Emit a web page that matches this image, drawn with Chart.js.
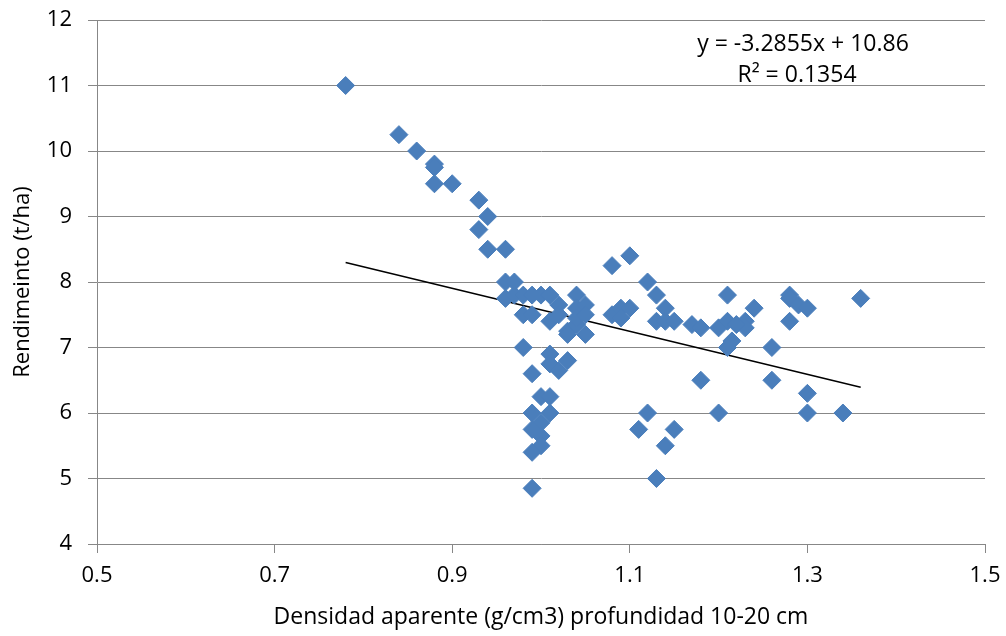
<!DOCTYPE html>
<html>
<head>
<meta charset="utf-8">
<script src="https://cdn.jsdelivr.net/npm/chart.js@4.4.0/dist/chart.umd.min.js"></script>
<style>
  html, body { margin: 0; padding: 0; background: #fff; }
  #wrap { width: 1006px; height: 636px; }
</style>
</head>
<body>
<div id="wrap"><canvas id="chart" width="1006" height="636"></canvas></div>
<script>
// Densidad aparente (g/cm3) 10-20 cm
const densidad = [
    0.78, 0.84, 0.86, 0.88, 0.88, 0.88, 0.90, 0.93, 0.94, 0.93,
    0.94, 0.96, 0.96, 0.97, 0.96, 0.97, 0.98, 0.99, 1.00, 1.01,
    1.04, 0.98, 0.99, 1.01, 1.02, 1.04, 1.05, 1.03, 1.04, 1.05,
    0.98, 1.01, 1.01, 1.03, 1.02, 0.99, 1.00, 1.01, 0.99, 1.01,
    1.00, 0.99, 1.00, 1.00, 0.99, 0.99, 1.08, 1.10, 1.12, 1.13,
    1.14, 1.08, 1.09, 1.10, 1.09, 1.13, 1.14, 1.15, 1.17, 1.18,
    1.21, 1.20, 1.21, 1.215, 1.21, 1.23, 1.23, 1.24, 1.22, 1.28,
    1.28, 1.29, 1.30, 1.28, 1.26, 1.36, 1.18, 1.26, 1.30, 1.30,
    1.34, 1.20, 1.12, 1.11, 1.15, 1.14, 1.13, 1.02, 1.04, 1.05,
    1.03
];
// Rendimiento (t/ha)
const rendimiento = [
    11.0, 10.25, 10.0, 9.8, 9.75, 9.5, 9.5, 9.25, 9.0, 8.8,
    8.5, 8.5, 8.0, 8.0, 7.75, 7.8, 7.8, 7.8, 7.8, 7.8,
    7.8, 7.5, 7.5, 7.4, 7.65, 7.6, 7.65, 7.25, 7.35, 7.2,
    7.0, 6.9, 6.75, 6.8, 6.65, 6.6, 6.25, 6.25, 6.0, 6.0,
    5.85, 5.75, 5.65, 5.5, 5.4, 4.85, 8.25, 8.4, 8.0, 7.8,
    7.6, 7.5, 7.6, 7.6, 7.45, 7.4, 7.4, 7.4, 7.35, 7.3,
    7.8, 7.3, 7.4, 7.1, 7.0, 7.4, 7.3, 7.6, 7.35, 7.8,
    7.75, 7.65, 7.6, 7.4, 7.0, 7.75, 6.5, 6.5, 6.3, 6.0,
    6.0, 6.0, 6.0, 5.75, 5.75, 5.5, 5.0, 7.5, 7.45, 7.5,
    7.2
];

// linear trend shown on the chart
const pendiente = -3.2855;
const intercepto = 10.86;
const r2 = 0.1354;
const trendX = [0.78, 1.36];

const xTicks = [0.5, 0.7, 0.9, 1.1, 1.3, 1.5];
const yTicks = [4, 5, 6, 7, 8, 9, 10, 11, 12];

const puntos = densidad.map((d, i) => ({ x: d, y: rendimiento[i] }));
const tendencia = trendX.map(x => ({ x: x, y: pendiente * x + intercepto }));

const gris = '#878787';
const fuente = "'Open Sans', 'Liberation Sans', Arial, sans-serif";

// equation label
const ecuacionPlugin = {
    id: 'ecuacion',
    afterDatasetsDraw(chart) {
        const ctx = chart.ctx;
        ctx.save();
        ctx.fillStyle = '#000';
        ctx.font = '23px ' + fuente;
        ctx.textAlign = 'center';
        ctx.textBaseline = 'middle';
        ctx.fillText('y = ' + pendiente + 'x + ' + intercepto, 803, 44);
        ctx.fillText('R² = ' + r2, 797, 75);
        ctx.restore();
    }
};

new Chart(document.getElementById('chart'), {
    type: 'scatter',
    data: {
        datasets: [{
            label: 'Rendimiento',
            data: puntos,
            pointStyle: 'rectRot',
            pointRadius: 9,
            pointHoverRadius: 9,
            backgroundColor: '#4a7ebb',
            borderColor: '#4a7ebb',
            borderWidth: 1
        }, {
            label: 'Lineal',
            type: 'line',
            data: tendencia,
            borderColor: '#000',
            borderWidth: 1.5,
            pointRadius: 0,
            fill: false
        }]
    },
    plugins: [ecuacionPlugin],
    options: {
        responsive: false,
        animation: false,
        layout: { padding: { top: 20, right: 21, left: 0, bottom: 0 } },
        plugins: {
            legend: { display: false },
            tooltip: { enabled: false }
        },
        scales: {
            x: {
                type: 'linear',
                min: 0.5,
                max: 1.5,
                afterBuildTicks: axis => { axis.ticks = xTicks.map(v => ({ value: v })); },
                afterFit: axis => {
                    axis.height = 92;
                    axis.paddingLeft = 0;
                    axis.paddingRight = 0;
                },
                grid: { drawOnChartArea: false, drawTicks: true, tickLength: 9, color: gris },
                border: { color: gris, width: 1 },
                ticks: {
                    color: '#000',
                    font: { family: fuente, size: 22 },
                    padding: 10,
                    maxRotation: 0,
                    callback: v => v.toFixed(1)
                },
                title: {
                    display: true,
                    text: 'Densidad aparente (g/cm3) profundidad 10-20 cm',
                    color: '#000',
                    font: { family: fuente, size: 23 },
                    padding: { top: 4, bottom: 5 }
                }
            },
            y: {
                type: 'linear',
                min: 4,
                max: 12,
                afterBuildTicks: axis => { axis.ticks = yTicks.map(v => ({ value: v })); },
                afterFit: axis => {
                    axis.width = 97;
                    axis.paddingTop = 0;
                    axis.paddingBottom = 0;
                },
                grid: { color: gris, tickLength: 9, lineWidth: 1 },
                border: { color: gris, width: 1 },
                ticks: {
                    color: '#000',
                    font: { family: fuente, size: 22 },
                    padding: 16
                },
                title: {
                    display: true,
                    text: 'Rendimeinto (t/ha)',
                    color: '#000',
                    font: { family: fuente, size: 22 },
                    padding: { top: 10, bottom: 4 }
                }
            }
        }
    }
});
</script>
</body>
</html>
